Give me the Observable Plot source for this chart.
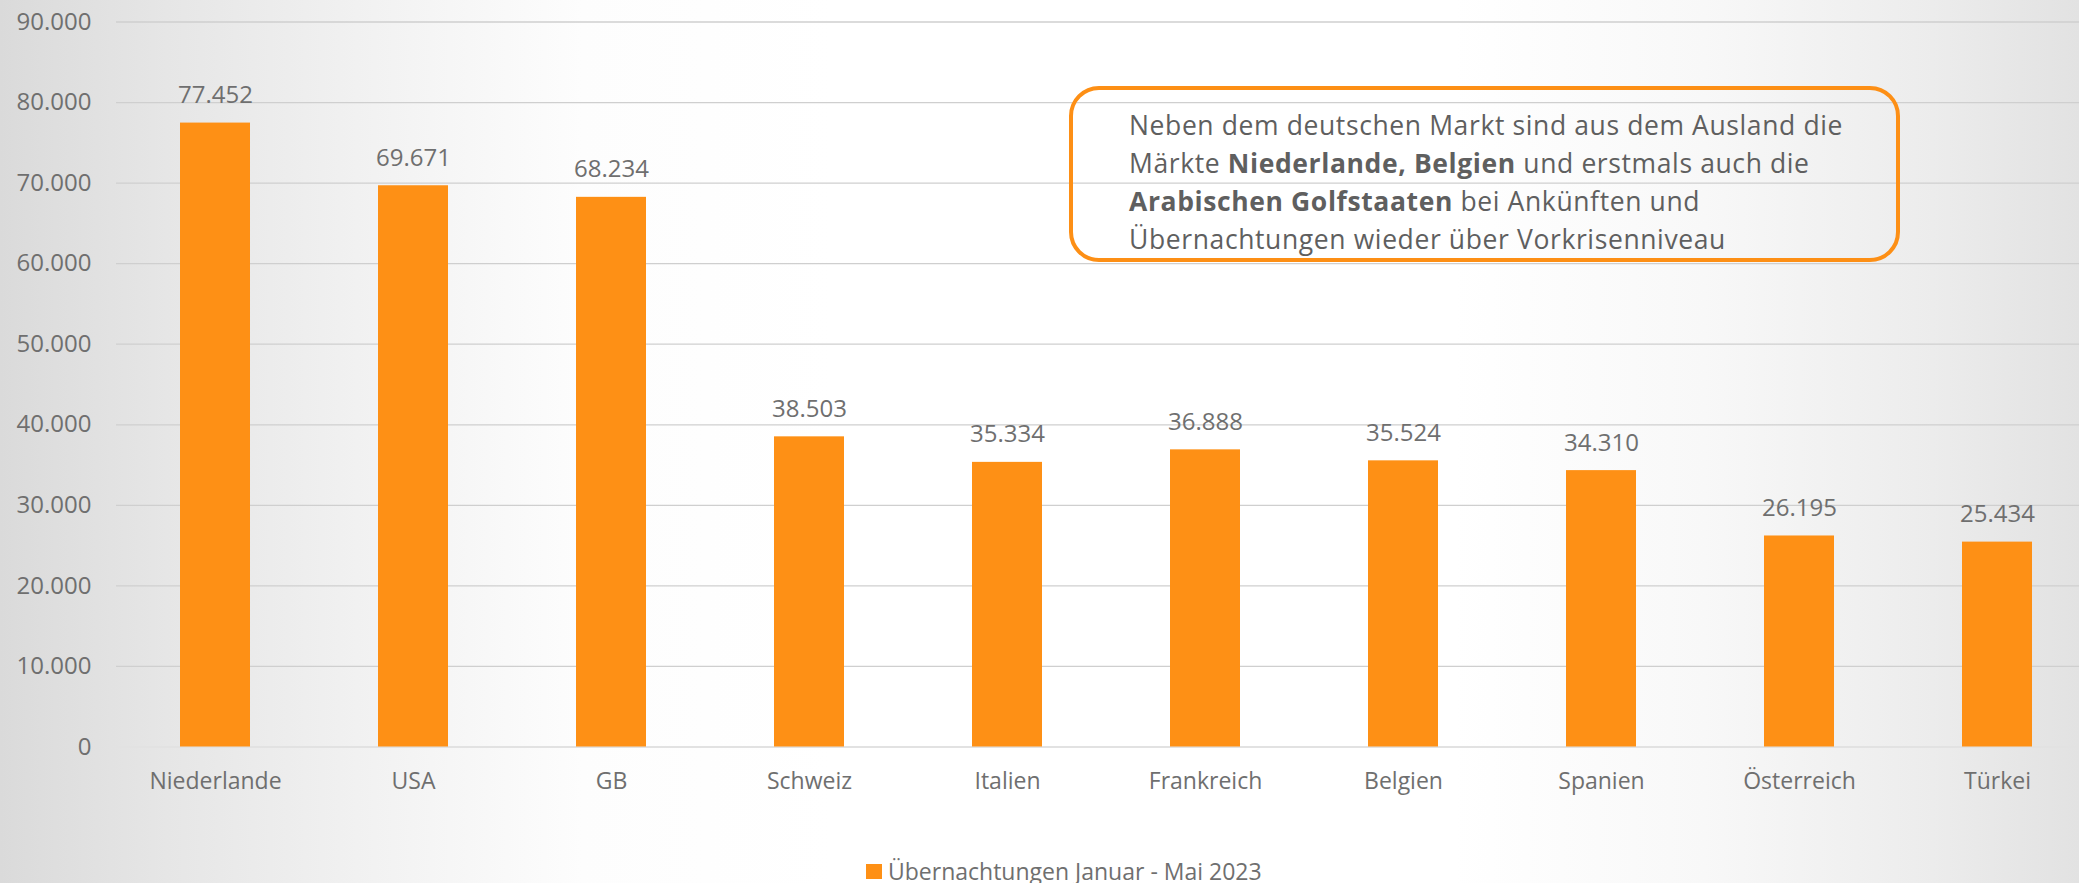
<!DOCTYPE html>
<html lang="de">
<head>
<meta charset="utf-8">
<script src="https://cdn.jsdelivr.net/npm/d3@7"></script>
<script src="https://cdn.jsdelivr.net/npm/@observablehq/plot@0.6"></script>
<style>
  html, body { margin: 0; padding: 0; }
  body {
    width: 2079px; height: 883px; overflow: hidden; position: relative;
    background: linear-gradient(to right, #dadada 0%, #e6e6e6 8%, #f2f2f2 18%, #fdfdfd 28%, #ffffff 40%, #ffffff 70%, #f8f8f8 82%, #ececec 93%, #e2e2e2 100%);
    font-family: "Open Sans", sans-serif;
  }
  #chart svg { display: block; }
  #legend {
    padding-left: 866px; padding-top: 11px; line-height: 30px;
    font-size: 23px; color: #6f6f6f; white-space: nowrap;
  }
  #legend .sw {
    display: inline-block; width: 16px; height: 15px; margin-right: 6px;
    margin-bottom: 1px; vertical-align: baseline;
  }
  #note {
    position: absolute; left: 1069px; top: 86px; width: 831px; height: 176px;
    box-sizing: border-box; border: 4px solid #fd8f15; border-radius: 30px;
  }
  #note .txt {
    position: absolute; left: 56px; top: 15.5px;
    font-size: 26.5px; line-height: 38px; color: #5f5f5f; white-space: nowrap;
  }
  #note b { font-weight: 700; }
</style>
</head>
<body>
<div id="chart"></div>
<div id="legend"></div>
<div id="note"><div class="txt">
<div class="ln">Neben dem deutschen Markt sind aus dem Ausland die</div>
<div class="ln">Märkte <b>Niederlande, Belgien</b> und erstmals auch die</div>
<div class="ln"><b>Arabischen Golfstaaten</b> bei Ankünften und</div>
<div class="ln">Übernachtungen wieder über Vorkrisenniveau</div>
</div></div>
<script>
const categories = ["Niederlande", "USA", "GB", "Schweiz", "Italien", "Frankreich", "Belgien", "Spanien", "Österreich", "Türkei"];
const values = [77452, 69671, 68234, 38503, 35334, 36888, 35524, 34310, 26195, 25434];
const yTicks = [0, 10000, 20000, 30000, 40000, 50000, 60000, 70000, 80000, 90000];
const gridTicks = [10000, 20000, 30000, 40000, 50000, 60000, 70000, 80000, 90000];
const seriesName = "Übernachtungen Januar - Mai 2023";
const barColor = "#fe9015";
const textColor = "#6f6f6f";

const de = d3.formatLocale({decimal: ",", thousands: ".", grouping: [3], currency: ["", " €"]});
const fmt = de.format(",d");

const data = categories.map((land, i) => ({land, wert: values[i]}));

const chart = Plot.plot({
  width: 2079,
  height: 845,
  marginLeft: 116,
  marginRight: 0,
  marginTop: 21.5,
  marginBottom: 98.5,
  x: {domain: categories, range: [116, 2096], paddingInner: 0.646, paddingOuter: 0.323, label: null},
  y: {domain: [0, 90000], label: null},
  style: {background: "transparent", fontFamily: "'Open Sans', sans-serif", fontSize: "24px", color: textColor, overflow: "visible"},
  marks: [
    Plot.gridY(gridTicks, {stroke: "#cfcfcf", strokeOpacity: 1, strokeWidth: 1.3}),
    Plot.ruleY([0], {stroke: "#e2e2e2", strokeWidth: 2}),
    Plot.barY(data, {x: "land", y: "wert", fill: barColor}),
    Plot.text(data, {x: "land", y: "wert", text: d => fmt(d.wert), dy: -20, lineAnchor: "bottom", fill: textColor, fontSize: 24}),
    Plot.axisY(yTicks, {tickSize: 0, tickPadding: 25, tickFormat: fmt, fontSize: 24, label: null}),
    Plot.axisX({tickSize: 0, tickPadding: 26, fontSize: 23, label: null})
  ]
});
document.getElementById("chart").appendChild(chart);

const legend = document.getElementById("legend");
legend.innerHTML = `<span class="sw" style="background:${barColor}"></span>${seriesName}`;

// fit annotation letter spacing to the reference line width
const lines = document.querySelectorAll("#note .ln");
const first = lines[0];
first.style.display = "inline-block";
const w = first.getBoundingClientRect().width;
first.style.display = "";
const n = first.textContent.length;
const ls = (714 - w) / n;
lines.forEach(l => l.style.letterSpacing = ls + "px");
</script>
</body>
</html>
